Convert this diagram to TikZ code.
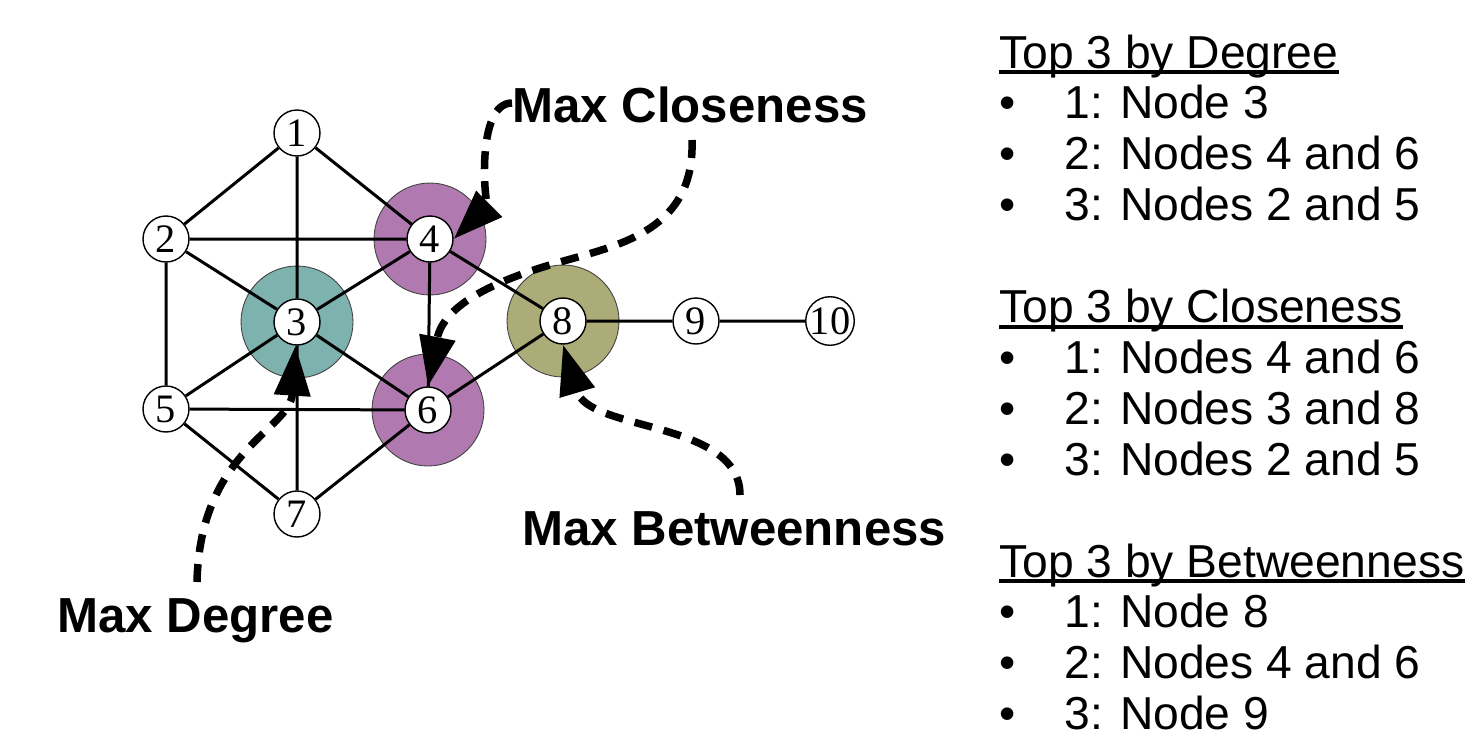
\documentclass[tikz,border=0pt]{standalone}
\usepackage{fontspec}
\setmainfont{Liberation Serif}
\setsansfont{Liberation Sans}
\usetikzlibrary{arrows.meta,backgrounds}
\definecolor{degcol}{RGB}{125,178,175}
\definecolor{clocol}{RGB}{176,122,176}
\definecolor{betcol}{RGB}{172,172,120}
\begin{document}
\begin{tikzpicture}[x=0.02cm,y=-0.02cm,line join=round,
	vertex/.style={circle,draw,fill=white,line width=0.8pt,minimum size=0.92cm,inner sep=0pt,font=\fontsize{23}{23}\selectfont},
	halo/.style={circle,draw=black!75,line width=0.5pt,minimum size=2.24cm,inner sep=0pt},
	link/.style={line width=0.06cm},
	pointer/.style={line width=0.15cm,dash pattern=on 0.36cm off 0.24cm,-{Triangle[length=1cm,width=0.7cm]}},
	maxlabel/.style={anchor=base west,inner sep=0pt,font=\sffamily\bfseries\fontsize{28}{28}\selectfont},
	tophead/.style={anchor=base west,inner sep=0pt,font=\sffamily\fontsize{26.3}{26.3}\selectfont},
	entry/.style={tophead}]
	\def\lh{50.9} \def\yo{68}
	\useasboundingbox (0,0) rectangle (1483,754);
	\node[vertex] (n1) at (297,133) {1};
	\node[vertex] (n2) at (166,239) {2};
	\node[vertex] (n3) at (297,322) {3};
	\node[vertex] (n4) at (430,239) {4};
	\node[vertex] (n5) at (166,409) {5};
	\node[vertex] (n6) at (428,410) {6};
	\node[vertex] (n7) at (297,514) {7};
	\node[vertex] (n8) at (563,321) {8};
	\node[vertex] (n9) at (696,321) {9};
	\node[vertex] (n10) at (830,321) {10};
	\begin{scope}[on background layer]
		\node[halo,fill=degcol] (h3) at (n3) {};
		\node[halo,fill=clocol] (h4) at (n4) {};
		\node[halo,fill=clocol] (h6) at (n6) {};
		\node[halo,fill=betcol] (h8) at (n8) {};
	\end{scope}
	\draw[link] (n1)--(n2) (n1)--(n3) (n1)--(n4) (n2)--(n4) (n2)--(n3) (n2)--(n5);
	\draw[link] (n3)--(n4) (n3)--(n5) (n3)--(n6) (n3)--(n7) (n4)--(n8) (n4)--(n6);
	\draw[link] (n5)--(n6) (n5)--(n7) (n6)--(n7) (n6)--(n8) (n8)--(n9) (n9)--(n10);
	\node[maxlabel] (mclo) at (512,122) {Max Closeness};
	\node[maxlabel] (mbet) at (522,545) {Max Betweenness};
	\node[maxlabel] (mdeg) at (57,632) {Max Degree};
	\coordinate (sdeg) at (197,582);
	\coordinate (sclo) at (512,103);
	\coordinate (sclo2) at (692,140);
	\coordinate (sbet) at (740,495);
	\draw[pointer] (sdeg) .. controls (200,450) and (290,430) .. (n3);
	\draw[pointer] (sclo) .. controls (475,103) and (485,208) .. (n4.east);
	\draw[pointer] (sclo2) .. controls (695,230) and (620,245) .. (560,262) .. controls (500,279) and (444,303) .. (n6.north);
	\draw[pointer] (sbet) .. controls (740,420) and (589,432) .. (n8.south);
	\node[tophead] (tdeg) at (999,\yo) {Top 3 by Degree};
	\node[entry] (d1) at (1064,\yo+\lh) {1: Node 3};
	\node[entry] (d2) at (1064,\yo+2*\lh) {2: Nodes 4 and 6};
	\node[entry] (d3) at (1064,\yo+3*\lh) {3: Nodes 2 and 5};
	\node[tophead] (tclo) at (999,\yo+5*\lh) {Top 3 by Closeness};
	\node[entry] (c1) at (1064,\yo+6*\lh) {1: Nodes 4 and 6};
	\node[entry] (c2) at (1064,\yo+7*\lh) {2: Nodes 3 and 8};
	\node[entry] (c3) at (1064,\yo+8*\lh) {3: Nodes 2 and 5};
	\node[tophead] (tbet) at (999,\yo+10*\lh) {Top 3 by Betweenness};
	\node[entry] (b1) at (1064,\yo+11*\lh) {1: Node 8};
	\node[entry] (b2) at (1064,\yo+12*\lh) {2: Nodes 4 and 6};
	\node[entry] (b3) at (1064,\yo+13*\lh) {3: Node 9};
	\foreach \k in {1,2,3,6,7,8,11,12,13}
		\node[entry] (dot\k) at (999,\yo+\k*\lh) {\textbullet};
	\foreach \h in {tdeg,tclo,tbet}
		\draw[line width=0.08cm] ([yshift=-0.08cm]\h.base west)--([yshift=-0.08cm]\h.base east);
\end{tikzpicture}
\end{document}
